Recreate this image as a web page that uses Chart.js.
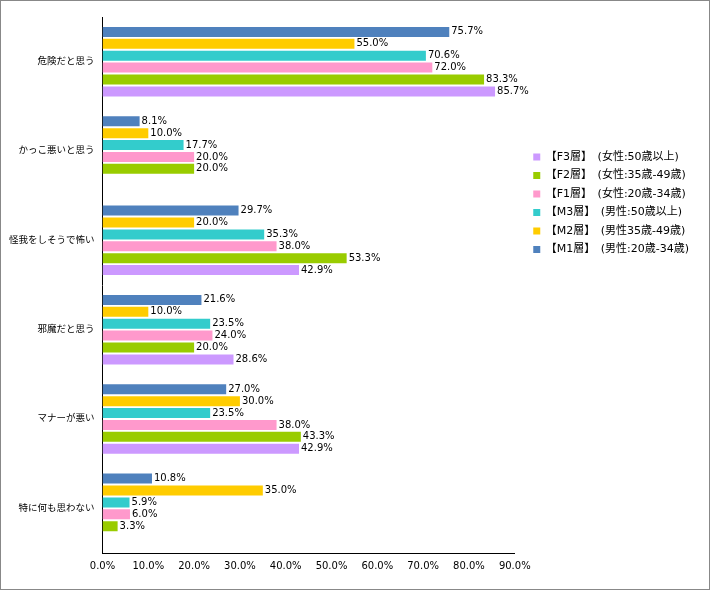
<!DOCTYPE html>
<html>
<head>
<meta charset="utf-8">
<script src="https://cdn.jsdelivr.net/npm/chart.js@4"></script>
<style>
  body { margin: 0; background: #fff; }
  #wrap { width: 708px; height: 588px; border: 1px solid #888; position: relative; }
</style>
</head>
<body>
<div id="wrap"><canvas id="chart" width="708" height="588"></canvas></div>
<script>
const categories = ["危険だと思う", "かっこ悪いと思う", "怪我をしそうで怖い", "邪魔だと思う", "マナーが悪い", "特に何も思わない"];
const seriesNames = [
  "【M1層】　(男性:20歳-34歳)",
  "【M2層】　(男性35歳-49歳)",
  "【M3層】　(男性:50歳以上)",
  "【F1層】　(女性:20歳-34歳)",
  "【F2層】　(女性:35歳-49歳)",
  "【F3層】　(女性:50歳以上)"
];
const m1 = [75.7, 8.1, 29.7, 21.6, 27.0, 10.8];
const m2 = [55.0, 10.0, 20.0, 10.0, 30.0, 35.0];
const m3 = [70.6, 17.7, 35.3, 23.5, 23.5, 5.9];
const f1 = [72.0, 20.0, 38.0, 24.0, 38.0, 6.0];
const f2 = [83.3, 20.0, 53.3, 20.0, 43.3, 3.3];
const f3 = [85.7, null, 42.9, 28.6, 42.9, null];
const colors = ["#4F81BD", "#FFCC00", "#33CCCC", "#FF99CC", "#99CC00", "#CC99FF"];

const font = "'DejaVu Sans', 'Noto Sans CJK JP', sans-serif";
const LEGEND_GAP = 11;

// value text at the end of each bar
const valueLabels = {
  id: "valueLabels",
  afterDatasetsDraw(chart) {
    const ctx = chart.ctx;
    ctx.save();
    ctx.font = "10px " + font;
    ctx.fillStyle = "#000";
    ctx.textBaseline = "middle";
    ctx.textAlign = "left";
    chart.data.datasets.forEach((ds, i) => {
      chart.getDatasetMeta(i).data.forEach((bar, j) => {
        const v = ds.data[j];
        if (v === null) return;
        ctx.fillText(v.toFixed(1) + "%", bar.x + 2, bar.y);
      });
    });
    ctx.restore();
  }
};

// leave some room between plot and legend
const legendGap = {
  id: "legendGap",
  beforeLayout(chart) {
    const lg = chart.legend;
    if (lg && !lg._gapPatched) {
      const fit = lg.fit;
      lg.fit = function () { fit.call(this); this.width += LEGEND_GAP; };
      lg._gapPatched = true;
    }
  },
  afterLayout(chart) {
    if (chart.legend) chart.legend.left += LEGEND_GAP;
  }
};

new Chart(document.getElementById("chart"), {
  type: "bar",
  data: {
    labels: categories,
    datasets: [m1, m2, m3, f1, f2, f3].map((d, i) => ({
      label: seriesNames[i],
      data: d,
      backgroundColor: colors[i],
      categoryPercentage: 0.8,
      barPercentage: 0.84
    }))
  },
  options: {
    indexAxis: "y",
    responsive: false,
    animation: false,
    layout: { padding: { top: 16, left: 0, right: 10, bottom: 10 } },
    scales: {
      x: {
        min: 0, max: 90,
        grid: { display: false, drawTicks: false },
        border: { display: true, color: "#000", width: 1 },
        ticks: { stepSize: 10, padding: 7, color: "#000", font: { size: 10, family: font }, callback: v => v.toFixed(1) + "%" }
      },
      y: {
        grid: { display: false, drawTicks: false },
        border: { display: true, color: "#000", width: 1 },
        ticks: { color: "#000", font: { size: 9.5, family: font }, padding: 8 }
      }
    },
    plugins: {
      tooltip: { enabled: false },
      legend: {
        position: "right",
        align: "start",
        reverse: true,
        title: { display: true, text: "", font: { size: 10 }, padding: { top: 115, bottom: 0 } },
        labels: { boxWidth: 7, boxHeight: 7, padding: 7.5, color: "#000", font: { size: 11, family: font } }
      }
    }
  },
  plugins: [valueLabels, legendGap]
});
</script>
</body>
</html>
